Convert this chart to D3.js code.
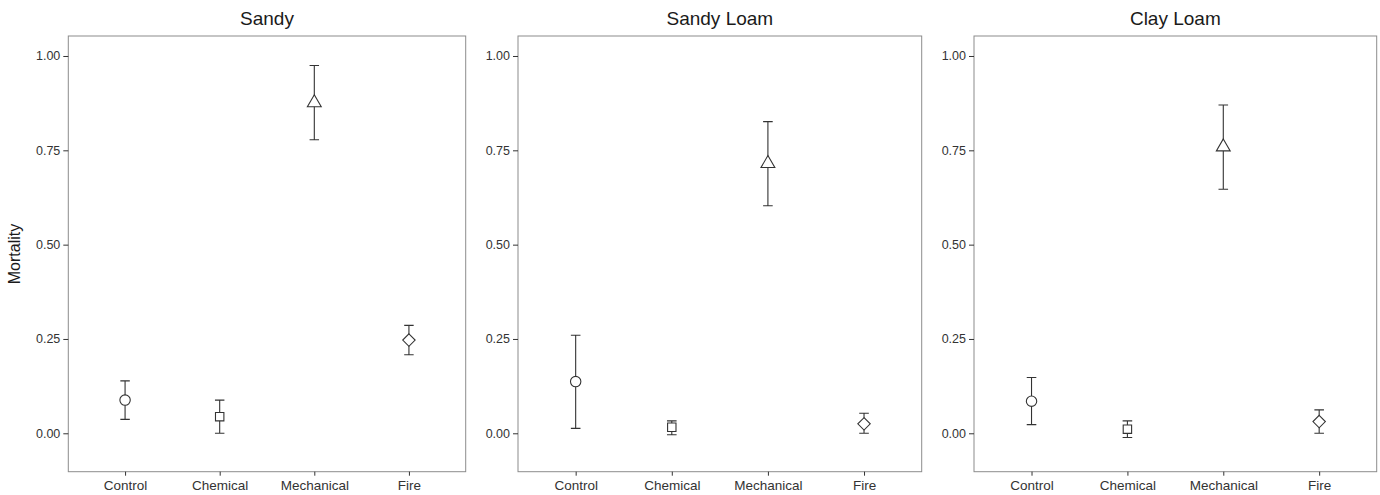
<!DOCTYPE html>
<html>
<head>
<meta charset="utf-8">
<script src="https://cdn.jsdelivr.net/npm/d3@7"></script>
<style>
  html, body { margin: 0; padding: 0; background: #fff; }
  svg { display: block; font-family: "Liberation Sans", Arial, Helvetica, sans-serif; }
</style>
</head>
<body>
<svg id="chart" width="1380" height="495"></svg>
<script>
// Treatments along the x axis and soil types (one panel each)
const categories = ["Control", "Chemical", "Mechanical", "Fire"];
const soils = ["Sandy", "Sandy Loam", "Clay Loam"];
const yTicks = [0, 0.25, 0.5, 0.75, 1.0];

// Mean mortality and error-bar limits per treatment
const sandyMean  = [0.088, 0.044, 0.876, 0.247];
const sandyLower = [0.037, 0.000, 0.778, 0.208];
const sandyUpper = [0.139, 0.088, 0.975, 0.286];

const sandyLoamMean  = [0.137, 0.016, 0.715, 0.025];
const sandyLoamLower = [0.013, -0.004, 0.603, 0.000];
const sandyLoamUpper = [0.260, 0.033, 0.826, 0.053];

const clayLoamMean  = [0.085, 0.011, 0.759, 0.031];
const clayLoamLower = [0.023, -0.011, 0.647, 0.000];
const clayLoamUpper = [0.148, 0.033, 0.870, 0.062];

const seriesBySoil = [
  { mean: sandyMean, lower: sandyLower, upper: sandyUpper },
  { mean: sandyLoamMean, lower: sandyLoamLower, upper: sandyLoamUpper },
  { mean: clayLoamMean, lower: clayLoamLower, upper: clayLoamUpper }
];

// Panel plot areas
const panelX = [[68.3, 465.7], [518, 921.7], [974, 1376.7]];
const plotTop = 36, plotBottom = 471.7;

const svg = d3.select("#chart");
const y = d3.scaleLinear().domain([-0.1018, 1.053]).range([plotBottom, plotTop]);

const ink = "#333333";

// One marker shape per treatment: circle, square, triangle, diamond
function markerPath(i) {
  if (i === 0) {
    const r = 5.2;
    return `M${-r},0A${r},${r} 0 1,0 ${r},0A${r},${r} 0 1,0 ${-r},0Z`;
  }
  if (i === 1) {
    const s = 4.2;
    return `M${-s},${-s}H${s}V${s}H${-s}Z`;
  }
  if (i === 2) {
    const r = 8.0, xc = r * Math.sqrt(3) / 2, yc = r / 2;
    return `M0,${-r}L${xc},${yc}L${-xc},${yc}Z`;
  }
  const d = 6.2;
  return `M0,${-d}L${d},0L0,${d}L${-d},0Z`;
}

soils.forEach((soil, p) => {
  const [x0, x1] = panelX[p];
  const x = d3.scalePoint().domain(categories).range([x0, x1]).padding(0.6);
  const g = svg.append("g");
  const s = seriesBySoil[p];

  // Panel frame
  g.append("rect")
    .attr("x", x0).attr("y", plotTop)
    .attr("width", x1 - x0).attr("height", plotBottom - plotTop)
    .attr("fill", "none").attr("stroke", "#8c8c8c").attr("stroke-width", 1);

  // Y axis
  const ya = g.append("g").attr("transform", `translate(${x0},0)`)
    .call(d3.axisLeft(y).tickValues(yTicks).tickFormat(d3.format(".2f")).tickSizeOuter(0).tickSize(5).tickPadding(3));
  ya.select(".domain").remove();
  ya.selectAll(".tick line").attr("stroke", ink);
  ya.selectAll(".tick text").attr("fill", "#333").style("font-size", "12.5px")
    .style("font-family", '"Liberation Sans", Arial, sans-serif');

  // X axis
  const xa = g.append("g").attr("transform", `translate(0,${plotBottom})`)
    .call(d3.axisBottom(x).tickSizeOuter(0).tickSize(4).tickPadding(5));
  xa.select(".domain").remove();
  xa.selectAll(".tick line").attr("stroke", ink);
  xa.selectAll(".tick text").attr("fill", "#333").style("font-size", "13.5px")
    .style("font-family", '"Liberation Sans", Arial, sans-serif');

  // Panel title
  g.append("text")
    .attr("x", (x0 + x1) / 2).attr("y", 25)
    .attr("text-anchor", "middle")
    .style("font-size", "19px").attr("fill", "#1a1a1a")
    .text(soil);

  const rows = categories.map((c, i) => ({ c, i, m: s.mean[i], lo: s.lower[i], hi: s.upper[i] }));
  const capHalf = x.step() * 0.05;

  // Error bars
  const eb = g.append("g").attr("stroke", ink).attr("stroke-width", 1.1).attr("fill", "none");
  eb.selectAll("path.err").data(rows).join("path").attr("class", "err")
    .attr("d", d => {
      const cx = x(d.c);
      return `M${cx - capHalf},${y(d.hi)}H${cx + capHalf}M${cx},${y(d.hi)}V${y(d.lo)}M${cx - capHalf},${y(d.lo)}H${cx + capHalf}`;
    });

  // Mean markers
  g.selectAll("path.pt").data(rows).join("path").attr("class", "pt")
    .attr("transform", d => `translate(${x(d.c)},${y(d.m)})`)
    .attr("d", d => markerPath(d.i))
    .attr("fill", "#fff").attr("stroke", ink).attr("stroke-width", 1.1);
});

// Y axis title
svg.append("text")
  .attr("transform", `translate(20,254) rotate(-90)`)
  .attr("text-anchor", "middle")
  .style("font-size", "16px").attr("fill", "#1a1a1a")
  .text("Mortality");
</script>
</body>
</html>
